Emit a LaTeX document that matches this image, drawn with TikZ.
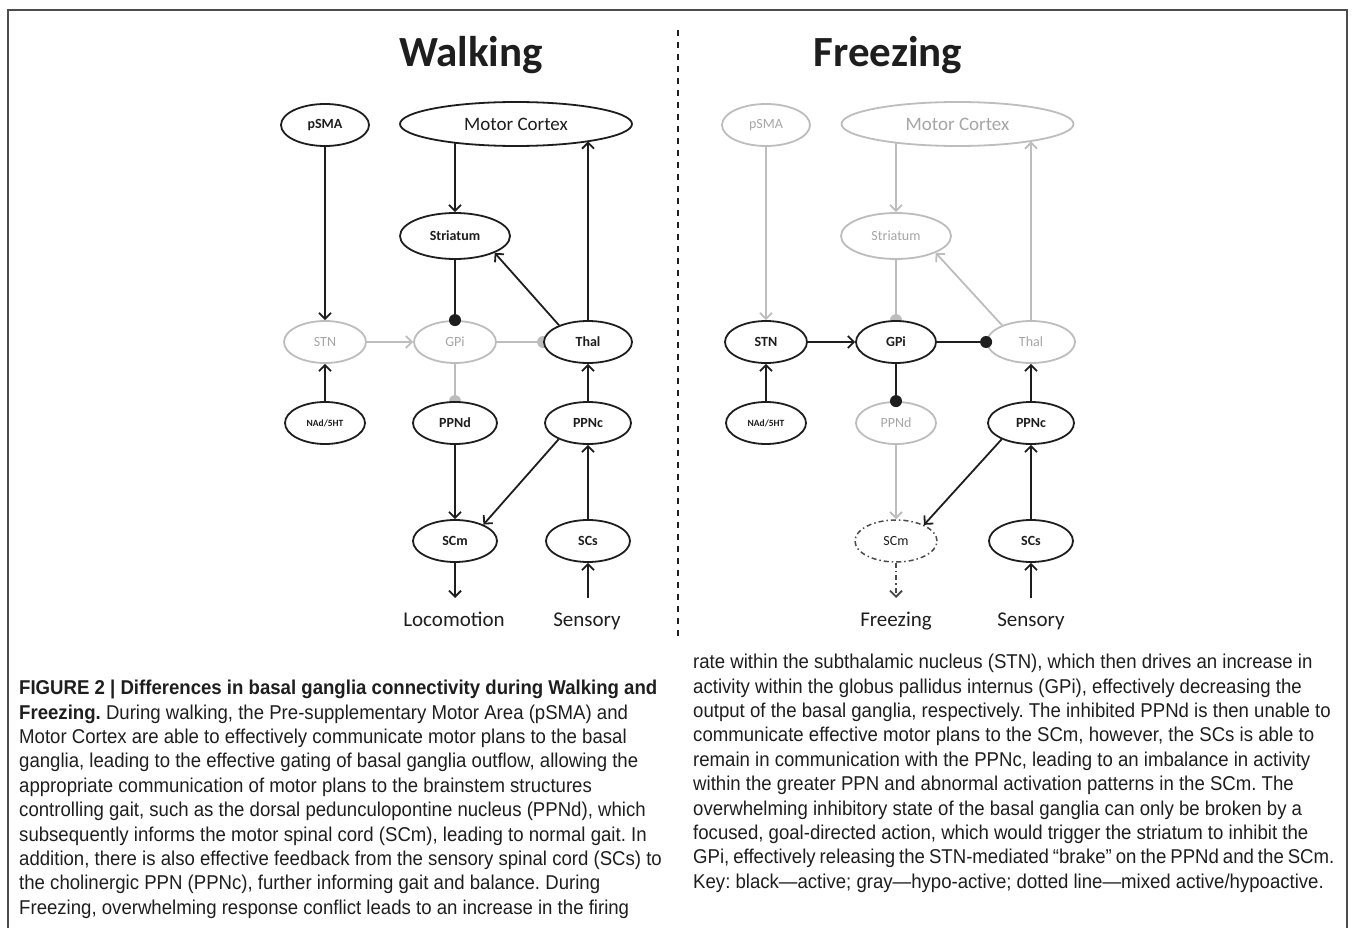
\documentclass[tikz,border=0pt]{standalone}
\usepackage{fontspec}
\setmainfont{Carlito}
\newfontfamily\capfont[FakeStretch=0.93]{Liberation Sans}
\usetikzlibrary{shapes.geometric,arrows.meta,backgrounds}
\definecolor{lg}{HTML}{BDBDBD}
\definecolor{lgt}{HTML}{A6A6A6}
\definecolor{dk}{HTML}{1E1E1E}
\definecolor{mix}{HTML}{4A4A4A}
\definecolor{frm}{HTML}{4C4C4C}
\frenchspacing
\tikzset{
  nd/.style={ellipse, draw=dk, line width=1.8pt, fill=white, inner sep=0pt,
    minimum height=42pt, text=dk, font=\fontsize{14}{16}\selectfont\bfseries},
  ndg/.style={nd, draw=lg, text=lgt, font=\fontsize{14}{16}\selectfont},
  ndmix/.style={nd, draw=mix, text=dk, line width=1.5pt,
    dash pattern=on 5pt off 3pt on 1.5pt off 3pt, font=\fontsize{14}{16}\selectfont},
  ar/.style={-{Straight Barb[length=6pt,width=12pt,line width=1.8pt]}, line width=1.8pt, draw=dk},
  arg/.style={ar, draw=lg},
  armix/.style={ar, draw=mix, line width=1.5pt, dash pattern=on 5pt off 3pt on 1.5pt off 3pt},
  ln/.style={line width=1.8pt, draw=dk},
  lng/.style={ln, draw=lg},
  ttl/.style={anchor=base, text=dk, font=\fontsize{43}{46}\selectfont\bfseries},
  lbl/.style={anchor=base, text=dk, font=\fontsize{21}{24}\selectfont},
  captxt/.style={anchor=north west, align=left, inner sep=0pt, text=dk,
    font=\capfont\fontsize{20}{24.4}\selectfont},
}
\begin{document}
\begin{tikzpicture}[x=1pt,y=-1pt]
\useasboundingbox (0,0) rectangle (1355,928);
% frame and divider
\draw[line width=2pt, draw=frm] (8,928) -- (8,10) -- (1347,10) -- (1347,928);
\draw[line width=2pt, draw=dk, dash pattern=on 6pt off 6pt] (678,30) -- (678,636);

% ---------------- Walking ----------------
\node[ttl] (tW) at (471,67) {Walking};
\node[nd, minimum width=88pt] (pL) at (325,125) {pSMA};
\node[nd, minimum width=232pt, minimum height=44pt, font=\fontsize{19}{22}\selectfont] (mL) at (516,124) {Motor Cortex};
\node[nd, minimum width=110pt, minimum height=46pt] (sL) at (455,236) {Striatum};
\node[ndg, minimum width=82pt] (stL) at (325,342) {STN};
\node[ndg, minimum width=82pt] (gL) at (455,342) {GPi};
\node[nd, minimum width=88pt] (tL) at (588,342) {Thal};
\node[nd, minimum width=80pt, font=\fontsize{9.5}{10}\selectfont\bfseries] (nL) at (325,423) {NAd/5HT};
\node[nd, minimum width=84pt] (pdL) at (455,423) {PPNd};
\node[nd, minimum width=86pt] (pcL) at (588,423) {PPNc};
\node[nd, minimum width=84pt] (cmL) at (455,541) {SCm};
\node[nd, minimum width=84pt] (csL) at (588,541) {SCs};
\node[lbl] (loL) at (454,626) {Locomotion};
\node[lbl] (seL) at (587,626) {Sensory};
\coordinate (loA) at (455,598);
\coordinate (seA) at (588,598);

\draw[ar] (pL) -- (stL);
\draw[ar] (sL.north |- mL.197) -- (sL.north);
\draw[ar] (tL.north) -- (tL.north |- mL.-13);
\draw[ar] (tL.150) -- (sL.-23);
\draw[ln] (sL.south) -- (gL.north);
\fill[dk] (gL.north) circle (6pt);
\draw[arg] (stL) -- (gL);
\draw[lng] (gL) -- (tL.west);
\draw[lng] (gL) -- (pdL.north);
\begin{pgfonlayer}{background}
\fill[lg] (tL.west) circle (6pt);
\fill[lg] (pdL.north) circle (6pt);
\end{pgfonlayer}
\draw[ar] (nL) -- (stL);
\draw[ar] (pdL) -- (cmL);
\draw[ar] (pcL) -- (tL);
\draw[ar] (pcL.209) -- (cmL.30);
\draw[ar] (csL) -- (pcL);
\draw[ar] (cmL) -- (loA);
\draw[ar] (seA) -- (csL);

% ---------------- Freezing ----------------
\node[ttl] (tF) at (888,67) {Freezing};
\node[ndg, minimum width=88pt] (pR) at (766,125) {pSMA};
\node[ndg, minimum width=232pt, minimum height=44pt, font=\fontsize{19}{22}\selectfont] (mR) at (957.5,124) {Motor Cortex};
\node[ndg, minimum width=110pt, minimum height=46pt] (sR) at (896,236) {Striatum};
\node[nd, minimum width=82pt] (stR) at (766,342) {STN};
\node[nd, minimum width=80pt] (gR) at (896,342) {GPi};
\node[ndg, minimum width=88pt] (tR) at (1031,342) {Thal};
\node[nd, minimum width=80pt, font=\fontsize{9.5}{10}\selectfont\bfseries] (nR) at (766,423) {NAd/5HT};
\node[ndg, minimum width=80pt] (pdR) at (896,423) {PPNd};
\node[nd, minimum width=86pt] (pcR) at (1031,423) {PPNc};
\node[ndmix, minimum width=82pt] (cmR) at (896,541) {SCm};
\node[nd, minimum width=84pt] (csR) at (1031,541) {SCs};
\node[lbl] (frR) at (896,626) {Freezing};
\node[lbl] (seR) at (1031,626) {Sensory};
\coordinate (frA) at (896,598);
\coordinate (seB) at (1031,598);

\draw[arg] (pR) -- (stR);
\draw[arg] (sR.north |- mR.197) -- (sR.north);
\draw[arg] (tR.north) -- (tR.north |- mR.-13);
\draw[arg] (tR.150) -- (sR.-23);
\draw[lng] (sR.south) -- (gR.north);
\begin{pgfonlayer}{background}
\fill[lg] (gR.north) circle (6pt);
\end{pgfonlayer}
\draw[ar] (stR) -- (gR);
\draw[ln] (gR) -- (tR.west);
\fill[dk] (tR.west) circle (6pt);
\draw[ln] (gR) -- (pdR.north);
\fill[dk] (pdR.north) circle (6pt);
\draw[ar] (nR) -- (stR);
\draw[arg] (pdR) -- (cmR);
\draw[ar] (pcR) -- (tR);
\draw[ar] (pcR.209) -- (cmR.30);
\draw[ar] (csR) -- (pcR);
\draw[armix] (cmR) -- (frA);
\draw[ar] (seB) -- (csR);

% ---------------- Caption ----------------
\node[captxt] (capL) at (19,680) {%
\textbf{FIGURE 2 | Differences in basal ganglia connectivity during Walking and}\\
\textbf{Freezing.} During walking, the Pre-supplementary Motor Area (pSMA) and\\
Motor Cortex are able to effectively communicate motor plans to the basal\\
ganglia, leading to the effective gating of basal ganglia outflow, allowing the\\
appropriate communication of motor plans to the brainstem structures\\
controlling gait, such as the dorsal pedunculopontine nucleus (PPNd), which\\
subsequently informs the motor spinal cord (SCm), leading to normal gait. In\\
addition, there is also effective feedback from the sensory spinal cord (SCs) to\\
the cholinergic PPN (PPNc), further informing gait and balance. During\\
Freezing, overwhelming response conflict leads to an increase in the firing};
\node[captxt] (capR) at (693,654) {%
rate within the subthalamic nucleus (STN), which then drives an increase in\\
activity within the globus pallidus internus (GPi), effectively decreasing the\\
output of the basal ganglia, respectively. The inhibited PPNd is then unable to\\
communicate effective motor plans to the SCm, however, the SCs is able to\\
remain in communication with the PPNc, leading to an imbalance in activity\\
within the greater PPN and abnormal activation patterns in the SCm. The\\
overwhelming inhibitory state of the basal ganglia can only be broken by a\\
focused, goal-directed action, which would trigger the striatum to inhibit the\\
{\spaceskip=0.2em GPi, effectively releasing the STN-mediated “brake” on the PPNd and the SCm.}\\
Key: black—active; gray—hypo-active; dotted line—mixed active/hypoactive.};
\end{tikzpicture}
\end{document}
